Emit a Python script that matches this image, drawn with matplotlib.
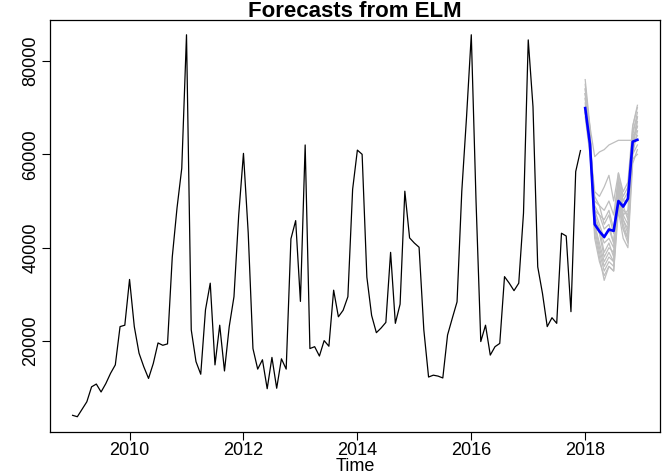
import matplotlib
matplotlib.use("Agg")
import matplotlib.pyplot as plt
import numpy as np

plt.rcParams['font.family'] = ['Liberation Sans', 'DejaVu Sans']

# monthly observations, Jan 2009 .. Dec 2017
obs = [
    4100, 3800, 5400, 7000, 10200, 10800, 9100, 10900, 13100, 14900, 23100, 23400,      # 2009
    33200, 23100, 17400, 14500, 12000, 15200, 19600, 19100, 19400, 38000, 48500, 57000,  # 2010
    85600, 22400, 15600, 12900, 26700, 32400, 14900, 23400, 13600, 23100, 29500, 47000,  # 2011
    60200, 43200, 18400, 14000, 16000, 9800, 16500, 9900, 16200, 14000, 41900, 45800,    # 2012
    28500, 62000, 18400, 18800, 16800, 20100, 18900, 30900, 25200, 26600, 29500, 52500,  # 2013
    60900, 60000, 33700, 25500, 21800, 22800, 24000, 39000, 23800, 27900, 52100, 42100,  # 2014
    41000, 40100, 22400, 12300, 12700, 12500, 12100, 21300, 24900, 28400, 52100, 68000,  # 2015
    85600, 50000, 19900, 23400, 17000, 18800, 19500, 33800, 32400, 30800, 32400, 47400,  # 2016
    84500, 70200, 35900, 30200, 23100, 25000, 23800, 43100, 42500, 26300, 56300, 60800,  # 2017
]
start_year = 2009

# ELM forecast mean, Jan .. Dec 2018
fc_mean = [69900, 62200, 45000, 43500, 42300, 43900, 43600, 50000, 48800, 50500, 62700, 63100]

# individual ensemble members (grey)
members = [
    [76000, 66000, 45000, 40000, 36000, 38000, 37000, 52000, 47000, 48000, 66000, 70000],
    [74000, 64000, 43000, 38000, 33000, 36000, 35000, 50000, 45000, 42000, 64000, 69000],
    [72000, 63000, 47000, 44000, 41000, 42000, 40000, 54000, 50000, 52000, 63000, 66000],
    [73000, 66000, 59500, 60500, 61000, 62000, 62500, 63000, 63000, 63000, 63000, 63000],
    [70000, 62000, 52000, 51000, 53000, 55500, 50000, 56000, 51000, 53000, 64000, 65000],
    [69000, 61000, 50000, 49000, 48000, 50000, 47000, 55000, 50000, 50000, 62000, 64000],
    [73000, 64000, 48000, 47000, 46000, 48000, 44000, 53000, 49000, 46000, 61000, 67000],
    [75000, 65000, 44000, 39000, 35000, 37000, 36000, 51000, 46000, 44000, 65000, 68000],
    [68000, 60000, 46000, 44000, 39000, 41000, 38000, 49000, 44000, 41000, 60000, 62000],
    [70000, 62000, 42000, 37000, 34000, 36000, 35000, 48000, 42000, 40000, 58000, 61000],
    [72000, 63000, 49000, 47000, 44000, 45000, 41000, 52000, 48000, 47000, 59000, 60000],
    [74000, 65000, 46000, 43000, 38000, 40000, 39000, 54000, 47000, 45000, 62000, 68000],
    [71000, 61000, 51000, 49000, 45000, 47000, 43000, 56000, 52000, 54000, 66000, 70500],
    [69000, 62000, 48000, 45000, 42000, 44000, 41000, 53000, 46000, 43000, 60000, 65000],
    [73000, 64000, 45000, 41000, 37000, 39000, 37000, 50000, 44000, 42000, 63000, 66000],
]
fc_start = 2018

x_ticks = [2010, 2012, 2014, 2016, 2018]
y_ticks = [20000, 40000, 60000, 80000]

t_obs = start_year + np.arange(len(obs)) / 12
t_fc = fc_start + np.arange(len(fc_mean)) / 12

fig = plt.figure(figsize=(6.65, 4.76), dpi=100)
ax = fig.add_axes([50 / 665, 44 / 476, 610 / 665, 412.5 / 476])

for m in members:
    ax.plot(t_fc, m, color='#bebebe', lw=0.9)
ax.plot(t_obs, obs, color='black', lw=0.9)
ax.plot(t_fc, fc_mean, color='#0000ff', lw=1.9)

ax.margins(x=0.04, y=0.04)

ax.set_xticks(x_ticks)
ax.set_yticks(y_ticks)
ax.set_yticklabels([str(v) for v in y_ticks], rotation=90, va='center')
ax.tick_params(axis='both', direction='out', length=5.5, width=0.8, labelsize=13, pad=2)
for s in ax.spines.values():
    s.set_linewidth(0.9)

fig.text(355 / 665, 1 - 17 / 476, "Forecasts from ELM", ha='center', va='baseline',
         fontsize=16, fontweight='bold')
fig.text(355 / 665, 1 - 471 / 476, "Time", ha='center', va='baseline', fontsize=13)

fig.savefig("out.png", dpi=100)
